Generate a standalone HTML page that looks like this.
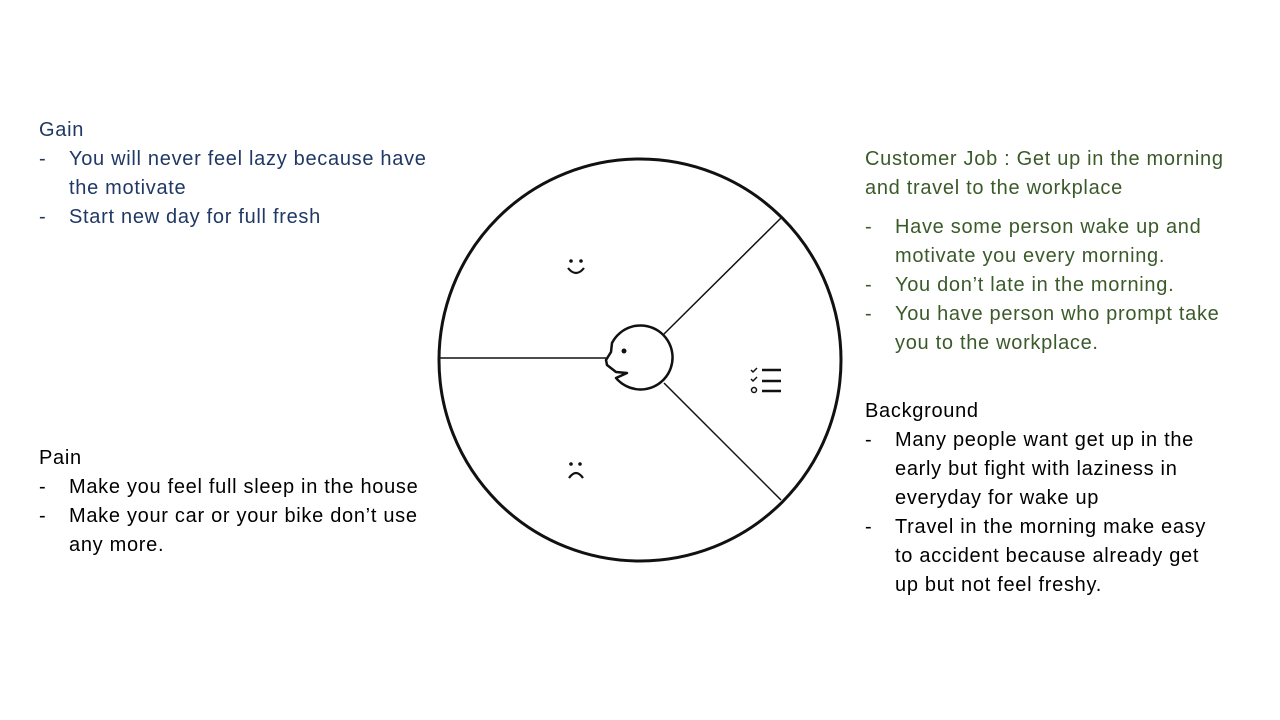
<!DOCTYPE html>
<html><head><meta charset="utf-8"><style>
body{margin:0;width:1280px;height:720px;background:#fff;position:relative;overflow:hidden;font-family:"Liberation Sans",sans-serif;font-size:20px;letter-spacing:0.7px;}
.t{position:absolute;line-height:29px;white-space:nowrap}
.b{color:#203864}.g{color:#3b5a2a}.k{color:#000}
.li{position:relative;padding-left:30px}
.li:before{content:"-";position:absolute;left:0}
</style></head><body>
<div class="t b" style="left:39px;top:116px">Gain
<div class="li">You will never feel lazy because have<br>the motivate</div>
<div class="li">Start new day for full fresh</div></div>
<div class="t k" style="left:39px;top:444px">Pain
<div class="li">Make you feel full sleep in the house</div>
<div class="li">Make your car or your bike don’t use<br>any more.</div></div>
<div class="t g" style="left:865px;top:145px">Customer Job : Get up in the morning<br>and travel to the workplace
<div style="height:10px"></div>
<div class="li">Have some person wake up and<br>motivate you every morning.</div>
<div class="li">You don’t late in the morning.</div>
<div class="li">You have person who prompt take<br>you to the workplace.</div></div>
<div class="t k" style="left:865px;top:397px">Background
<div class="li">Many people want get up in the<br>early but fight with laziness in<br>everyday for wake up</div>
<div class="li">Travel in the morning make easy<br>to accident because already get<br>up but not feel freshy.</div></div>
<svg width="1280" height="720" style="position:absolute;left:0;top:0">
<circle cx="640" cy="360" r="201" fill="none" stroke="#111" stroke-width="3"/>
<g stroke="#111" stroke-width="1.5">
<line x1="439" y1="358" x2="606" y2="358"/>
<line x1="664" y1="334" x2="781" y2="218"/>
<line x1="664" y1="383" x2="781" y2="500"/>
</g>
<path d="M612 343 A32 32 0 1 1 616 378 L627 373 L616 372 L607 365 L606 360 L611 352 Z" fill="#fff" stroke="#111" stroke-width="2.5" stroke-linejoin="round"/>
<circle cx="624" cy="351" r="2.5" fill="#111"/>
<circle cx="571" cy="261" r="1.8" fill="#111"/><circle cx="581" cy="261" r="1.8" fill="#111"/>
<path d="M568 268 Q576 278 584 268" fill="none" stroke="#111" stroke-width="2.2"/>
<circle cx="571" cy="464" r="1.8" fill="#111"/><circle cx="580" cy="464" r="1.8" fill="#111"/>
<path d="M569 478 Q576 468 583 478" fill="none" stroke="#111" stroke-width="2.2"/>
<g stroke="#111" stroke-width="2.5" fill="none">
<line x1="762" y1="370" x2="781" y2="370"/><line x1="762" y1="381" x2="781" y2="381"/><line x1="762" y1="391" x2="781" y2="391"/>
<path d="M751 370 l2 2 l4 -4" stroke-width="1.5"/><path d="M751 379 l2 2 l4 -4" stroke-width="1.5"/>
<circle cx="754" cy="390" r="2.5" stroke-width="1.5"/>
</g>
</svg>
</body></html>
